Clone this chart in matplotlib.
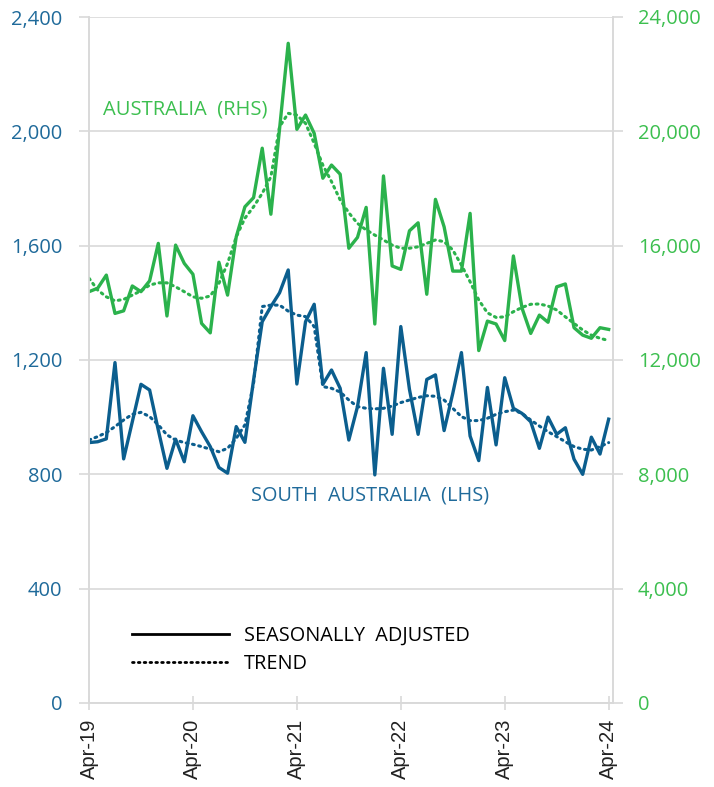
import matplotlib
matplotlib.use("Agg")
import matplotlib.pyplot as plt
from matplotlib.lines import Line2D

plt.rcParams['font.family'] = ['Open Sans', 'DejaVu Sans']

# monthly, Apr-19 .. Apr-24
tick_labels = ["Apr-19", "Apr-20", "Apr-21", "Apr-22", "Apr-23", "Apr-24"]

aus_sa = [14390, 14510, 14970, 13630, 13720, 14590, 14390, 14770, 16080, 13540,
          16020, 15380, 15000, 13280, 12950, 15420, 14270, 16310, 17360, 17680,
          19410, 17100, 20080, 23080, 20070, 20570, 19930, 18360, 18820, 18500,
          15910, 16290, 17340, 13260, 18440, 15290, 15170, 16520, 16800, 14300,
          17620, 16660, 15110, 15110, 17130, 12330, 13360, 13260, 12680, 15640,
          13810, 12930, 13570, 13320, 14560, 14660, 13130, 12870, 12760, 13130, 13070]
aus_trend = [14860, 14450, 14210, 14070, 14120, 14270, 14420, 14620, 14700, 14700,
             14560, 14390, 14210, 14160, 14240, 14680, 15380, 16310, 16960, 17360,
             17830, 18410, 20160, 20630, 20570, 20280, 19580, 18820, 18240, 17600,
             17150, 16780, 16550, 16370, 16200, 16020, 15910, 15910, 15960, 16080,
             16200, 16140, 15850, 15320, 14740, 14100, 13650, 13490, 13510, 13690,
             13840, 13950, 13960, 13890, 13750, 13510, 13280, 13050, 12870, 12760, 12680]
sa_sa = [911, 914, 924, 1191, 854, 984, 1115, 1095, 955, 821,
         923, 844, 1005, 949, 897, 824, 804, 967, 912, 1130,
         1334, 1387, 1435, 1515, 1116, 1334, 1395, 1115, 1165, 1101,
         920, 1037, 1226, 798, 1171, 940, 1317, 1097, 940, 1132,
         1148, 953, 1083, 1226, 934, 848, 1104, 903, 1138, 1031,
         1013, 984, 891, 1000, 940, 963, 853, 800, 930, 871, 993]
sa_trend = [920, 932, 946, 967, 990, 1010, 1017, 1002, 973, 938,
            920, 911, 905, 897, 888, 879, 891, 926, 973, 1118,
            1387, 1392, 1392, 1371, 1357, 1352, 1317, 1107, 1101, 1088,
            1060, 1037, 1031, 1029, 1031, 1039, 1051, 1060, 1069, 1075,
            1073, 1060, 1031, 1002, 988, 988, 996, 1010, 1019, 1025,
            1013, 990, 969, 949, 932, 914, 897, 888, 885, 897, 911]

BLUE = "#0b5e8e"
GREEN = "#2bb24c"
BLUE_TXT = "#1f6a9a"
GREEN_TXT = "#3cbf4f"
GRID = "#d9d9d9"

months = list(range(len(sa_sa)))

fig = plt.figure(figsize=(7.14, 7.87), dpi=100)
ax = fig.add_axes([89 / 714, 84 / 787, 524 / 714, 686 / 787])
ax2 = ax.twinx()

dots = (0, (0.6, 1.5))
ax.plot(months, sa_trend, color=BLUE, lw=2.2, linestyle=dots, dash_capstyle="round")
ax.plot(months, sa_sa, color=BLUE, lw=2.4)
ax2.plot(months, aus_trend, color=GREEN, lw=2.2, linestyle=dots, dash_capstyle="round")
ax2.plot(months, aus_sa, color=GREEN, lw=2.4)

ax.set_xlim(0, 60.5)
ax.set_ylim(0, 2400)
ax2.set_ylim(0, 24000)
ax.set_yticks(range(0, 2401, 400))
ax.set_yticklabels([f"{v:,}" for v in range(0, 2401, 400)])
ax2.set_yticks(range(0, 24001, 4000))
ax2.set_yticklabels([f"{v:,}" for v in range(0, 24001, 4000)])
ax.set_xticks(range(0, 61, 12))
ax.set_xticklabels(tick_labels, rotation=90, family=["Liberation Sans"], fontsize=14.5, color="#222222")

ax.grid(axis="y", color=GRID, lw=1.2)
ax.set_axisbelow(True)
for a in (ax, ax2):
    a.spines["top"].set_visible(False)
    for s in ("left", "right", "bottom"):
        a.spines[s].set_color(GRID)
        a.spines[s].set_linewidth(1.2)
ax.tick_params(axis="y", colors=GRID, labelcolor=BLUE_TXT, labelsize=14.5, length=7, width=1.2, pad=12)
ax2.tick_params(axis="y", colors=GRID, labelcolor=GREEN_TXT, labelsize=14.5, length=7, width=1.2, pad=11)
ax.tick_params(axis="x", colors=GRID, labelcolor="#222222", length=10, width=1.2, direction="inout", pad=6)

fig.text(103 / 714, 1 - 109 / 787, "AUSTRALIA  (RHS)", color=GREEN_TXT, fontsize=14.5, va="center", ha="left")
fig.text(251 / 714, 1 - 495 / 787, "SOUTH  AUSTRALIA  (LHS)", color=BLUE_TXT, fontsize=14.3, va="center", ha="left")

handles = [Line2D([], [], color="black", lw=2),
           Line2D([], [], color="black", lw=2, linestyle=dots, dash_capstyle="round")]
fig.legend(handles, ["SEASONALLY  ADJUSTED", "TREND"], loc="upper left",
           bbox_to_anchor=(128 / 714, 1 - 622 / 787), frameon=False, fontsize=14.3,
           handlelength=4.9, handletextpad=0.75, labelspacing=0.42, borderaxespad=0, borderpad=0.2)

fig.savefig("out.png", dpi=100)
